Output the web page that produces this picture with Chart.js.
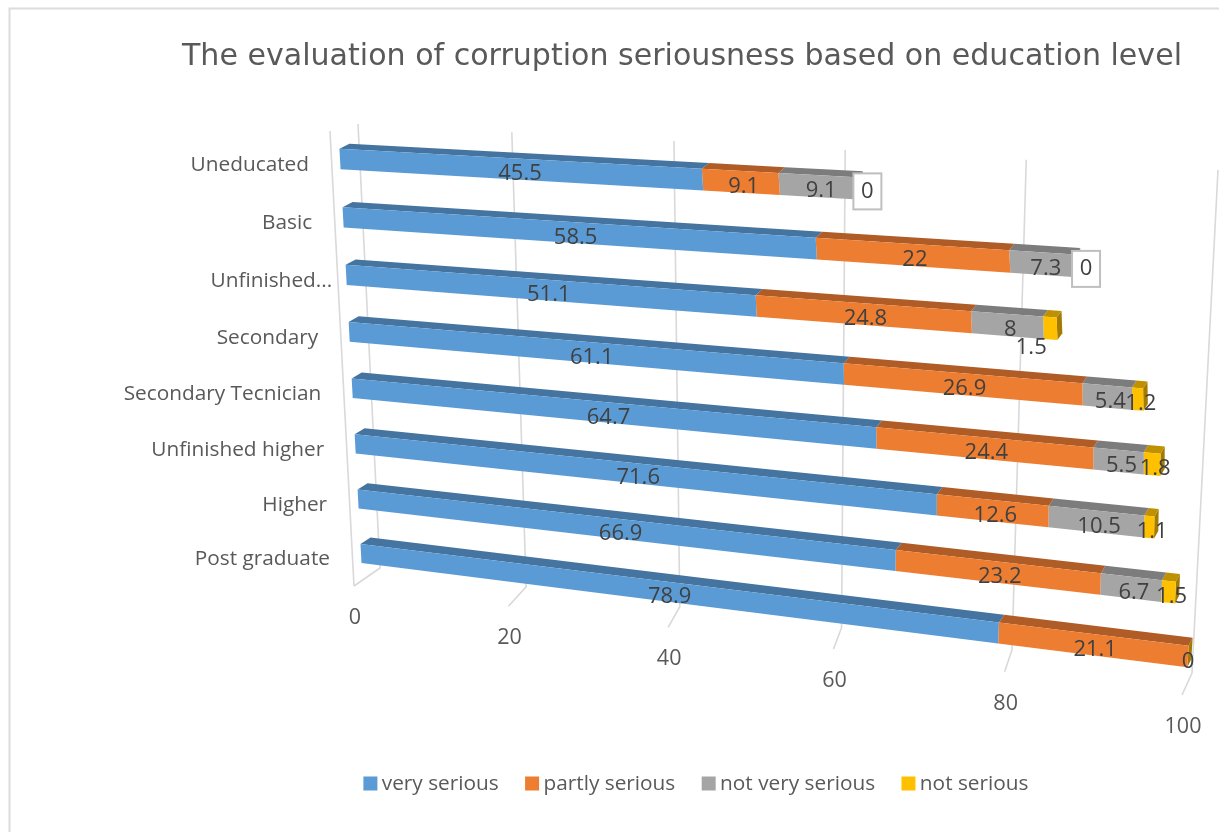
<!DOCTYPE html>
<html>
<head>
<meta charset="utf-8">
<title>Corruption seriousness by education level</title>
<script src="https://cdn.jsdelivr.net/npm/chart.js@4"></script>
<style>
  html, body { margin: 0; padding: 0; background: #fff; }
  #wrap { width: 1219px; height: 832px; position: relative; }
  canvas { filter: blur(0.5px); }
</style>
</head>
<body>
<div id="wrap"><canvas id="chart"></canvas></div>
<script>
const categories = ['Uneducated', 'Basic', 'Unfinished...', 'Secondary', 'Secondary Tecnician', 'Unfinished higher', 'Higher', 'Post graduate'];
const verySerious = [45.5, 58.5, 51.1, 61.1, 64.7, 71.6, 66.9, 78.9];
const partlySerious = [9.1, 22, 24.8, 26.9, 24.4, 12.6, 23.2, 21.1];
const notVerySerious = [9.1, 7.3, 8, 5.4, 5.5, 10.5, 6.7, 0];
const notSerious = [0, 0, 1.5, 1.2, 1.8, 1.1, 1.5, 0];

const titleText = 'The evaluation of corruption seriousness based on education level';
const font = '"Open Sans", sans-serif';
const labelSize = 20.8;

// maps the unit square onto a quad, used for the wall and floor grid
function quadMap(p0, p1, p2, p3) {
  const sx = p0[0] - p1[0] + p2[0] - p3[0], sy = p0[1] - p1[1] + p2[1] - p3[1];
  const dx1 = p1[0] - p2[0], dx2 = p3[0] - p2[0], dy1 = p1[1] - p2[1], dy2 = p3[1] - p2[1];
  const den = dx1 * dy2 - dx2 * dy1;
  const g = (sx * dy2 - dx2 * sy) / den, h = (dx1 * sy - sx * dy1) / den;
  const a = p1[0] - p0[0] + g * p1[0], b = p3[0] - p0[0] + h * p3[0];
  const d = p1[1] - p0[1] + g * p1[1], e = p3[1] - p0[1] + h * p3[1];
  return (u, v) => {
    const w = 1 + g * u + h * v;
    return [(p0[0] + a * u + b * v) / w, (p0[1] + d * u + e * v) / w];
  };
}

const wallPlane = quadMap([358, 124], [1218, 170], [1192, 673], [380, 568]);
const floorPlane = quadMap([380, 568], [1192, 673], [1182, 695], [354, 586]);

// front face of the bars: u along the value axis, v from first row to last row
function barPlane(u, v) {
  const t = u * 0.9 / (1 - 0.1 * u);
  const s = v * 1.04 / (1 + 0.04 * v);
  const lx = 340 + 21 * s, ly = 159 + 394.5 * s;
  const rx = 1185 + 3 * s + 30 * s * (1 - s), ry = 207 + 449.5 * s;
  return [lx + (rx - lx) * t, ly + (ry - ly) * t];
}

// chart pixel -> bar plane coordinates
function toPlane(chart, px, py) {
  const xs = chart.scales.x, ys = chart.scales.y;
  const band = ys.height / categories.length;
  const u = xs.getValueForPixel(px) / 100;
  const v = ((py - ys.top) / band - 0.5) / (categories.length - 1);
  return barPlane(u, v).concat([u, v]);
}

function poly(ctx, pts, color) {
  ctx.beginPath();
  pts.forEach((p, i) => i ? ctx.lineTo(p[0], p[1]) : ctx.moveTo(p[0], p[1]));
  ctx.closePath();
  ctx.fillStyle = color;
  ctx.fill();
}

const back = p => [p[0] + 10 - 6 * p[2], p[1] - 5 - 1.5 * p[3] - 1.5 * p[2]];
const topColors = ['#44749f', '#b05c26', '#7c7c7c', '#bf9000'];

// bars are still laid out by the controller, only the painting is projected
Chart.BarElement.prototype.draw = function (ctx) {
  const { x, y, base, height } = this.getProps(['x', 'y', 'base', 'height']);
  const chart = this.owner.chart, ds = this.owner.ds;
  const tl = toPlane(chart, base, y - height / 2), tr = toPlane(chart, x, y - height / 2);
  const bl = toPlane(chart, base, y + height / 2), br = toPlane(chart, x, y + height / 2);
  ctx.save();
  if (ds === 3) poly(ctx, [tr, back(tr), back(br), br], '#a37b00');
  poly(ctx, [tl, back(tl), back(tr), tr], topColors[ds]);
  poly(ctx, [tl, tr, br, bl], this.options.backgroundColor);
  ctx.restore();
};

const frame3d = {
  id: 'frame3d',
  afterLayout(chart) {
    // legend starts under the plot, not at the padding edge
    chart.legend.left = 337;
  },
  beforeDatasetsDraw(chart) {
    const ctx = chart.ctx, xs = chart.scales.x;
    chart.data.datasets.forEach((d, ds) => {
      chart.getDatasetMeta(ds).data.forEach(el => { el.owner = { chart, ds }; });
    });
    ctx.save();
    // picture border
    ctx.strokeStyle = '#dcdcdc';
    ctx.lineWidth = 2;
    ctx.beginPath();
    ctx.moveTo(9.5, 834);
    ctx.lineTo(9.5, 8.5);
    ctx.lineTo(1221, 8.5);
    ctx.stroke();
    // grid on wall and floor
    ctx.strokeStyle = '#d9d9d9';
    ctx.lineWidth = 1.6;
    xs.ticks.forEach(t => {
      const u = t.value / 100;
      const a = wallPlane(u, 0), b = wallPlane(u, 1), c = floorPlane(u, 1);
      ctx.beginPath();
      ctx.moveTo(a[0], a[1]);
      ctx.lineTo(b[0], b[1]);
      ctx.lineTo(c[0], c[1]);
      ctx.stroke();
    });
    const f0 = floorPlane(0, 1);
    ctx.beginPath();
    ctx.moveTo(330, 131);
    ctx.lineTo(f0[0], f0[1]);
    ctx.stroke();
    // value axis labels
    ctx.fillStyle = '#595959';
    ctx.font = '21.5px ' + font;
    ctx.textAlign = 'center';
    ctx.textBaseline = 'middle';
    xs.ticks.forEach(t => {
      const p = floorPlane(t.value / 100, 1);
      ctx.fillText(String(t.value), p[0] + 1, p[1] + 32);
    });
    // category labels
    ctx.font = labelSize + 'px ' + font;
    ctx.textAlign = 'right';
    categories.forEach((c, i) => {
      const p = barPlane(0, i / (categories.length - 1));
      const nudge = i === 2 ? 17 : 0;
      ctx.fillText(c, p[0] - 31 + nudge, p[1] + 6);
    });
    ctx.restore();
  },
  afterDatasetsDraw(chart) {
    const ctx = chart.ctx;
    ctx.save();
    ctx.font = '22px ' + font;
    ctx.textAlign = 'center';
    ctx.textBaseline = 'middle';
    chart.data.datasets.forEach((dataset, ds) => {
      chart.getDatasetMeta(ds).data.forEach((el, i) => {
        const value = dataset.data[i];
        if (ds === 2 && value === 0) return;
        const p = toPlane(chart, (el.x + el.base) / 2, el.y);
        let lx = p[0] + 3, ly = p[1] + 5;
        if (ds === 3 && i < 2) {
          // zero labels that sit in a box at the end of the bar
          lx += 7;
          ly -= 2;
          ctx.fillStyle = '#fff';
          ctx.strokeStyle = '#bfbfbf';
          ctx.lineWidth = 2;
          ctx.fillRect(lx - 14, ly - 18, 28, 36);
          ctx.strokeRect(lx - 14, ly - 18, 28, 36);
        }
        if (ds === 3 && i === 2) { lx -= 22; ly += 14; }
        if (ds === 3 && i === 7) lx -= 3;
        ctx.fillStyle = '#404040';
        ctx.fillText(String(value), lx, ly);
      });
    });
    ctx.restore();
  }
};

// thick same-colour border keeps the legend swatch at 14px with the text close to it
const swatch = color => ({ backgroundColor: color, borderColor: color, borderWidth: 12, clip: false });

new Chart(document.getElementById('chart'), {
  type: 'bar',
  data: {
    labels: categories,
    datasets: [
      { label: 'very serious', data: verySerious, ...swatch('#5b9bd5') },
      { label: 'partly serious', data: partlySerious, ...swatch('#ed7d31') },
      { label: 'not very serious', data: notVerySerious, ...swatch('#a5a5a5') },
      { label: 'not serious', data: notSerious, ...swatch('#ffc000') }
    ]
  },
  options: {
    indexAxis: 'y',
    responsive: true,
    maintainAspectRatio: false,
    animation: false,
    layout: { padding: { left: 182, right: 37, bottom: 28 } },
    datasets: { bar: { categoryPercentage: 1, barPercentage: 0.35 } },
    scales: {
      x: {
        stacked: true, min: 0, max: 100,
        ticks: { stepSize: 20, display: false },
        grid: { display: false }, border: { display: false }
      },
      y: {
        stacked: true,
        ticks: { display: false },
        grid: { display: false }, border: { display: false }
      }
    },
    plugins: {
      title: {
        display: true,
        text: titleText,
        align: 'end',
        color: '#595959',
        font: { family: '"DejaVu Sans", sans-serif', size: 31, weight: 'normal' },
        padding: { top: 38, bottom: 10 }
      },
      legend: {
        position: 'bottom',
        align: 'start',
        labels: {
          boxWidth: 2, boxHeight: 2, padding: 32.4,
          color: '#595959',
          font: { family: font, size: labelSize }
        }
      },
      tooltip: { enabled: false }
    }
  },
  plugins: [frame3d]
});
</script>
</body>
</html>
